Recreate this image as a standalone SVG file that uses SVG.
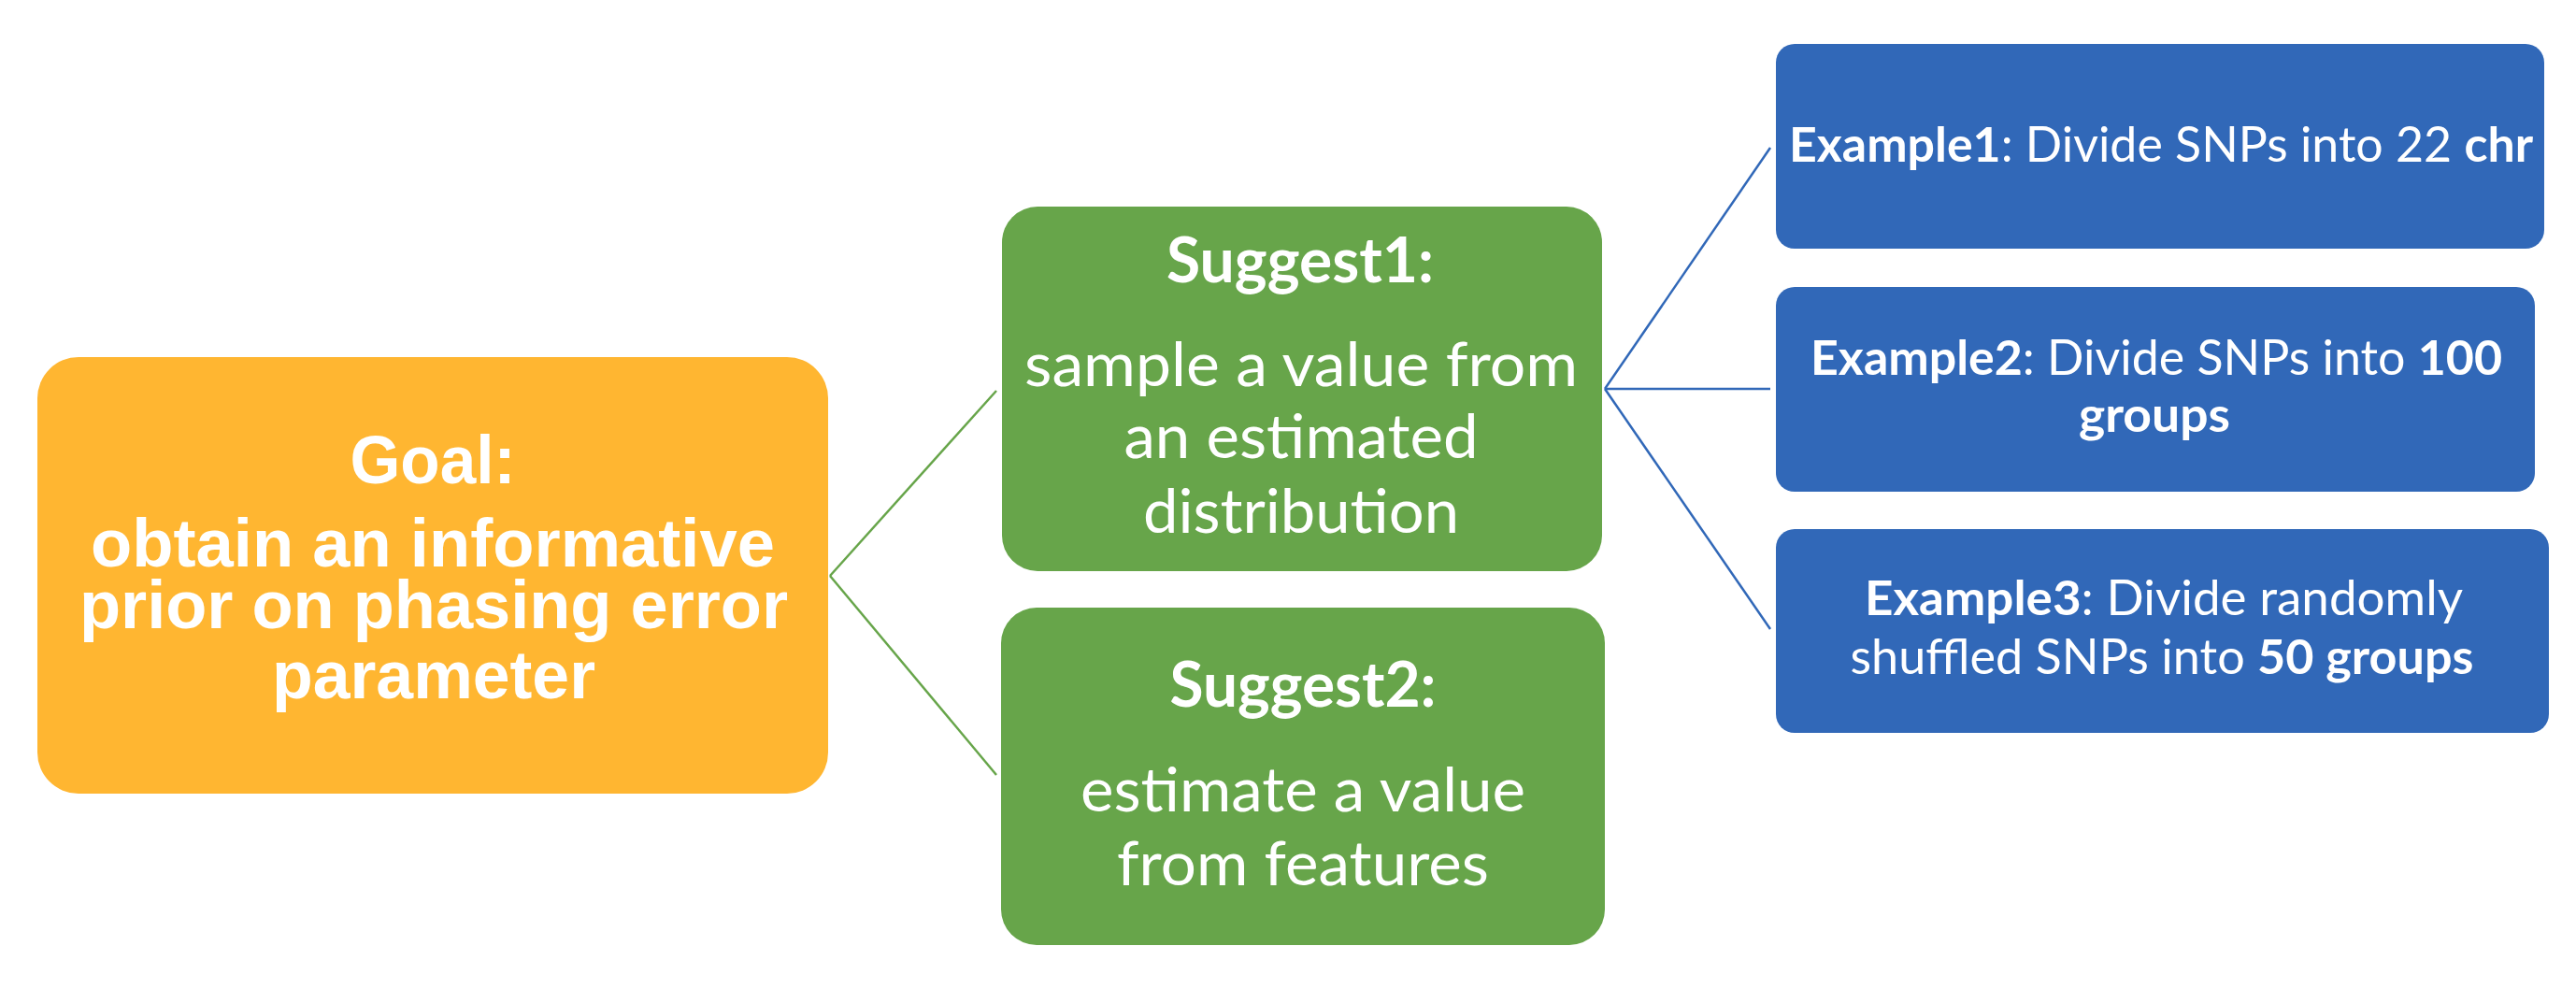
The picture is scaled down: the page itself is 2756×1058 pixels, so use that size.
<svg xmlns="http://www.w3.org/2000/svg" width="2756" height="1058" viewBox="0 0 2756 1058">
  <style>
    .goal { fill: #FFB631; }
    .sug { fill: #67A54A; }
    .ex { fill: #3168B8; }
    .tg { font-family: "Liberation Sans", Arial, sans-serif; font-weight: bold; font-size: 72px; fill: #FFFFFF; text-anchor: middle; }
    .ts { font-family: Lato, "Open Sans", sans-serif; font-size: 66px; fill: #FFFFFF; text-anchor: middle; }
    .te { font-family: Lato, "Open Sans", sans-serif; font-size: 52px; fill: #FFFFFF; text-anchor: middle; }
    .b { font-weight: bold; }
    .gl { stroke: #67A54A; stroke-width: 2.5; fill: none; }
    .bl { stroke: #3168B8; stroke-width: 2.5; fill: none; }
  </style>
  <rect width="2756" height="1058" fill="#FFFFFF"/>
  <g id="connectors">
    <line class="gl" x1="888" y1="616" x2="1066" y2="418"/>
    <line class="gl" x1="888" y1="616" x2="1066" y2="829"/>
    <line class="bl" x1="1717" y1="416" x2="1894" y2="158"/>
    <line class="bl" x1="1717" y1="416" x2="1894" y2="416"/>
    <line class="bl" x1="1717" y1="416" x2="1894" y2="673"/>
  </g>
  <g id="goal">
    <rect class="goal" x="40" y="382" width="846" height="467" rx="44" ry="44"/>
    <text class="tg" x="463" y="517" textLength="177" lengthAdjust="spacingAndGlyphs">Goal:</text>
    <text class="tg" x="463" y="606" textLength="732" lengthAdjust="spacingAndGlyphs">obtain an informative</text>
    <text class="tg" x="464" y="672" textLength="758" lengthAdjust="spacingAndGlyphs">prior on phasing error</text>
    <text class="tg" x="464" y="747" textLength="346" lengthAdjust="spacingAndGlyphs">parameter</text>
  </g>
  <g id="suggest1">
    <rect class="sug" x="1072" y="221" width="642" height="390" rx="38" ry="38"/>
    <text class="ts b" x="1391" y="302" textLength="286" lengthAdjust="spacingAndGlyphs">Suggest1:</text>
    <text class="ts" x="1392" y="413" textLength="592" lengthAdjust="spacingAndGlyphs">sample a value from</text>
    <text class="ts" x="1392" y="490" textLength="379" lengthAdjust="spacingAndGlyphs">an estimated</text>
    <text class="ts" x="1392" y="570" textLength="338" lengthAdjust="spacingAndGlyphs">distribution</text>
  </g>
  <g id="suggest2">
    <rect class="sug" x="1071" y="650" width="646" height="361" rx="38" ry="38"/>
    <text class="ts b" x="1394" y="756" textLength="285" lengthAdjust="spacingAndGlyphs">Suggest2:</text>
    <text class="ts" x="1394" y="868" textLength="476" lengthAdjust="spacingAndGlyphs">estimate a value</text>
    <text class="ts" x="1394" y="947" textLength="398" lengthAdjust="spacingAndGlyphs">from features</text>
  </g>
  <g id="example1">
    <rect class="ex" x="1900" y="47" width="822" height="219" rx="20" ry="20"/>
    <text class="te" x="2312" y="173" textLength="796" lengthAdjust="spacingAndGlyphs"><tspan class="b">Example1</tspan>: Divide SNPs into 22 <tspan class="b">chr</tspan></text>
  </g>
  <g id="example2">
    <rect class="ex" x="1900" y="307" width="812" height="219" rx="20" ry="20"/>
    <text class="te" x="2307" y="401" textLength="740" lengthAdjust="spacingAndGlyphs"><tspan class="b">Example2</tspan>: Divide SNPs into <tspan class="b">100</tspan></text>
    <text class="te b" x="2305" y="462" textLength="162" lengthAdjust="spacingAndGlyphs">groups</text>
  </g>
  <g id="example3">
    <rect class="ex" x="1900" y="566" width="827" height="218" rx="20" ry="20"/>
    <text class="te" x="2315" y="658" textLength="640" lengthAdjust="spacingAndGlyphs"><tspan class="b">Example3</tspan>: Divide randomly</text>
    <text class="te" x="2313" y="721" textLength="667" lengthAdjust="spacingAndGlyphs">shuffled SNPs into <tspan class="b">50 groups</tspan></text>
  </g>
</svg>
